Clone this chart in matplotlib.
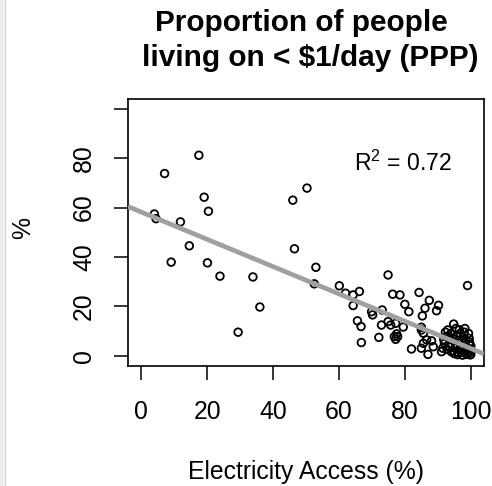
import matplotlib
matplotlib.use("Agg")
import matplotlib.pyplot as plt
from matplotlib.lines import Line2D
from matplotlib.patches import Rectangle

plt.rcParams['font.family'] = ['Liberation Sans', 'DejaVu Sans']
plt.rcParams['mathtext.fontset'] = 'custom'
plt.rcParams['mathtext.rm'] = 'Liberation Sans'

# Electricity access (%) vs share of population living on < $1/day (%)
access = [
    4.0, 4.5, 7.1, 9.1, 11.9, 14.6, 17.5, 19.1, 20.4, 20.1, 23.9, 29.4, 33.9, 36.0,
    46.0, 50.3, 46.5, 53.0, 52.5,
    60.1, 62.0, 64.3, 66.2, 64.3, 65.6, 66.7, 66.8,
    74.9, 76.3, 78.5, 80.0, 81.2, 69.9, 70.2, 73.1, 72.9, 74.9, 75.7, 72.1,
    76.8, 77.2, 77.5, 79.5, 77.2, 77.8, 82.0,
    84.3, 86.1, 87.4, 90.2, 89.6, 85.3, 99.0,
    85.0, 85.6, 85.0, 85.0, 85.6, 86.6, 88.1, 87.0, 88.6,
    94.8, 95.5, 96.5, 93.0, 94.0, 92.5, 93.5, 95.7, 97.7, 98.5, 99.5, 99.8,
    99.2, 98.0, 96.5, 95.5, 92.0, 91.5, 91.1, 94.1, 93.5, 97.0, 96.0, 98.7,
    99.8, 97.5, 100.0, 99.5, 98.0, 96.8, 94.5, 92.8, 95.0, 96.2, 100.0, 99.0,
    97.2, 93.8, 92.3, 95.2, 98.5, 100.0, 99.6, 97.8, 94.6, 96.0, 91.8, 93.2,
    98.2, 99.3,
]
poverty = [
    57.4, 55.5, 73.8, 37.9, 54.2, 44.5, 81.2, 64.2, 58.5, 37.6, 32.2, 9.5, 31.9, 19.7,
    63.0, 67.9, 43.3, 35.8, 29.1,
    28.3, 25.3, 24.6, 26.0, 20.3, 14.1, 11.8, 5.3,
    32.7, 24.9, 24.6, 20.8, 17.8, 17.8, 16.5, 18.5, 12.4, 13.8, 12.4, 7.4,
    7.7, 6.6, 8.8, 11.6, 13.1, 7.7, 2.7,
    25.6, 19.2, 22.4, 20.4, 18.2, 16.1, 28.4,
    10.4, 9.1, 11.5, 3.0, 5.0, 6.4, 6.0, 0.5, 3.6,
    12.8, 11.0, 10.5, 10.4, 9.0, 7.7, 6.5, 8.0, 7.5, 6.0, 4.5, 2.5,
    1.0, 1.5, 2.5, 4.5, 5.0, 3.0, 1.6, 1.6, 3.5, 4.0, 6.0, 0.5,
    0.3, 0.2, 1.5, 7.0, 9.5, 9.0, 7.0, 2.5, 0.8, 1.2, 4.0, 3.0,
    5.5, 4.8, 9.5, 3.0, 2.2, 0.5, 5.5, 3.3, 2.0, 0.4, 6.5, 8.0,
    11.0, 9.0,
]

# Least-squares fit y = a + b x
fit_intercept = 58.2
fit_slope = -0.553
r_squared = 0.72

x_ticks = [0, 20, 40, 60, 80, 100]
y_ticks = [0, 20, 40, 60, 80, 100]
y_tick_labels = ['0', '20', '40', '60', '80', '']

W, H = 492, 486
fig = plt.figure(figsize=(W / 100, H / 100), dpi=100)
ax = fig.add_axes([128 / W, 1 - 365.5 / H, (484 - 128) / W, (365.5 - 99) / H])

ax.scatter(access, poverty, s=30, facecolors='none', edgecolors='black',
           linewidths=1.3, zorder=2)
ax.axline((0, fit_intercept), slope=fit_slope, color='#a0a0a0', lw=3.4,
          zorder=3, solid_capstyle='butt')

ax.set_xlim(-4, 104)
ax.set_ylim(-4, 104)
ax.set_xticks(x_ticks)
ax.set_xticklabels([str(v) for v in x_ticks])
ax.set_yticks(y_ticks)
ax.set_yticklabels(y_tick_labels)

for sp in ax.spines.values():
    sp.set_linewidth(1.2)
ax.tick_params(axis='both', direction='out', length=10, width=1.1,
               labelsize=17.8, pad=13)
ax.tick_params(axis='x', pad=14.5)
ax.tick_params(axis='y', labelrotation=90)
for lbl in ax.get_yticklabels():
    lbl.set_va('center')

ax.text(64.5, 75.0, r"$\mathrm{R}^{2}$ = " + f"{r_squared:.2f}", fontsize=16.6,
        ha='left', va='baseline')

# Title and axis labels
fig.text(301.5 / W, 1 - 31 / H, "Proportion of people", fontsize=21.4,
         fontweight='bold', ha='center', va='baseline')
fig.text(310 / W, 1 - 65.7 / H, "living on < \\$1/day (PPP)", fontsize=21.4,
         fontweight='bold', ha='center', va='baseline')
fig.text(306 / W, 1 - 479.3 / H, "Electricity Access (%)", fontsize=17.8,
         ha='center', va='baseline')
fig.text(23.5 / W, 1 - 228 / H, "%", fontsize=17.8, rotation=90,
         ha='center', va='center')

# Left page edge
fig.add_artist(Rectangle((0, 0), 4 / W, 1, transform=fig.transFigure,
                         facecolor='#ececec', edgecolor='none'))
fig.add_artist(Line2D([4.5 / W, 4.5 / W], [0, 1], transform=fig.transFigure,
                      color='#d4d4d4', lw=1.0))

fig.savefig("out.png", dpi=100)
